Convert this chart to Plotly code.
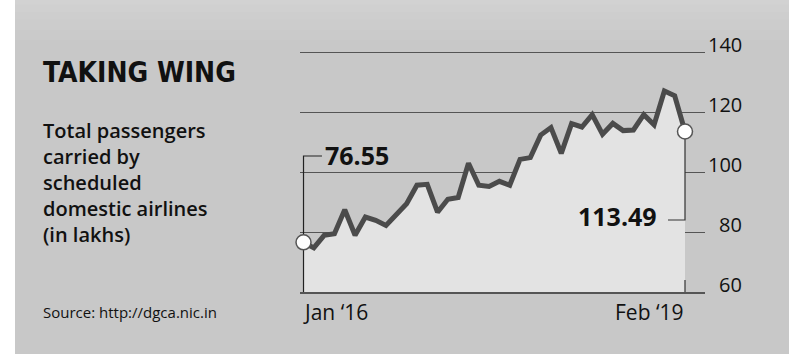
import plotly.graph_objects as go

# ---- data ----
months = list(range(38))  # Jan 2016 ... Feb 2019 (monthly)
passengers = [76.55, 74.7, 78.9, 79.4, 87.4, 78.9, 85.0, 83.9, 82.2, 86.1,
              89.4, 95.6, 95.9, 86.6, 90.9, 91.5, 102.9, 95.6, 95.2, 96.9,
              95.6, 104.2, 104.8, 112.3, 114.8, 106.2, 116.1, 115.0, 119.1, 112.6,
              116.2, 113.8, 114.0, 119.1, 115.7, 127.0, 125.4, 113.49]
y_ticks = [60, 80, 100, 120, 140]
x_labels = ["Jan \u201816", "Feb \u201819"]
title = "TAKING WING"
subtitle = "Total passengers<br>carried by<br>scheduled<br>domestic airlines<br>(in lakhs)"
source = "Source: http://dgca.nic.in"

BG = "#c8c8c8"
TXT = "#111111"
FONT = "Open Sans"
TITLE_FONT = "'Liberation Sans Narrow', 'DejaVu Sans Condensed', 'Roboto Condensed', Roboto, sans-serif"

fig = go.Figure()

# area + line
fig.add_trace(go.Scatter(
    x=months, y=passengers, mode="lines",
    line=dict(color="#4b4b4b", width=5),
    fill="tozeroy", fillcolor="#e3e3e3",
    hoverinfo="skip", showlegend=False))

# leader lines for the callouts
first, last = months[0], months[-1]
fig.add_trace(go.Scatter(
    x=[1.79, first, first], y=[105.33, 105.33, 60], mode="lines",
    line=dict(color="#222222", width=1.2), hoverinfo="skip", showlegend=False))
fig.add_trace(go.Scatter(
    x=[last, last, 35.35], y=[passengers[-1], 84.0, 84.0], mode="lines",
    line=dict(color="#333333", width=1.2), hoverinfo="skip", showlegend=False))
fig.add_trace(go.Scatter(
    x=[last, last], y=[60, 64], mode="lines",
    line=dict(color="#333333", width=1.2), hoverinfo="skip", showlegend=False))

# end-point circles
fig.add_trace(go.Scatter(
    x=[first, last], y=[passengers[0], passengers[-1]], mode="markers",
    marker=dict(size=15, color="white", line=dict(color="#555555", width=1.5)),
    cliponaxis=False, hoverinfo="skip", showlegend=False))

annotations = []
for v in y_ticks:
    annotations.append(dict(
        x=1, xref="paper", xanchor="right", xshift=39,
        y=v, yref="y", yanchor="middle", yshift=8,
        text=str(v), showarrow=False,
        font=dict(family=FONT, size=20, color=TXT)))

annotations.append(dict(x=first, xref="x", xanchor="left", xshift=-3,
                        y=0, yref="paper", yanchor="top", yshift=-4,
                        text=x_labels[0], showarrow=False,
                        font=dict(family=FONT, size=21, color=TXT)))
annotations.append(dict(x=last, xref="x", xanchor="right", xshift=1,
                        y=0, yref="paper", yanchor="top", yshift=-4,
                        text=x_labels[1], showarrow=False,
                        font=dict(family=FONT, size=21, color=TXT)))

annotations.append(dict(x=1.79, xref="x", xanchor="left", xshift=1,
                        y=105.6, yref="y", yanchor="middle",
                        text=f"{passengers[0]:.2f}", showarrow=False,
                        font=dict(family=FONT, size=25, color=TXT, weight="bold")))
annotations.append(dict(x=35.35, xref="x", xanchor="right", xshift=-9,
                        y=85.3, yref="y", yanchor="middle",
                        text=f"{passengers[-1]:.2f}", showarrow=False,
                        font=dict(family=FONT, size=25, color=TXT, weight="bold")))

annotations.append(dict(x=-0.6395, xref="paper", xanchor="left",
                        y=0.873, yref="paper", yanchor="middle",
                        text=title, showarrow=False,
                        font=dict(family=TITLE_FONT, size=28,
                                  color=TXT, weight="bold")))
annotations.append(dict(x=-0.6395, xref="paper", xanchor="left", align="left",
                        y=0.4365, yref="paper", yanchor="middle",
                        text=subtitle, showarrow=False,
                        font=dict(family=FONT, size=20, color=TXT, weight=600)))
annotations.append(dict(x=-0.6395, xref="paper", xanchor="left",
                        y=-0.079, yref="paper", yanchor="middle",
                        text=source, showarrow=False,
                        font=dict(family=FONT, size=15, color=TXT)))

shapes = [
    # white strip at the left edge
    dict(type="rect", xref="paper", yref="paper", x0=-0.75, x1=-0.7037,
         y0=-0.3, y1=1.2, fillcolor="white", line=dict(width=0), layer="below"),
]
# soft lighter band at the top (stacked translucent layers)
for y0 in [1.0, 1.04, 1.08, 1.11, 1.14]:
    shapes.append(dict(type="rect", xref="paper", yref="paper", x0=-0.7037, x1=1.25,
                       y0=y0, y1=1.2, fillcolor="white", opacity=0.045,
                       line=dict(width=0), layer="below"))

fig.update_layout(
    width=789, height=354,
    margin=dict(l=300, r=84, t=40, b=62),
    paper_bgcolor=BG, plot_bgcolor="rgba(0,0,0,0)",
    showlegend=False,
    annotations=annotations, shapes=shapes,
    xaxis=dict(range=[-0.34, 38.94], showgrid=False, zeroline=False,
               showticklabels=False, ticks="", showline=True,
               linecolor="#555555", linewidth=1.5, fixedrange=True),
    yaxis=dict(range=[60, 144], tickvals=y_ticks, showgrid=True,
               gridcolor="#555555", gridwidth=1.3, zeroline=False,
               showticklabels=False, ticks="", showline=False, fixedrange=True),
)

fig.write_html("out.html", config=dict(displayModeBar=False))
